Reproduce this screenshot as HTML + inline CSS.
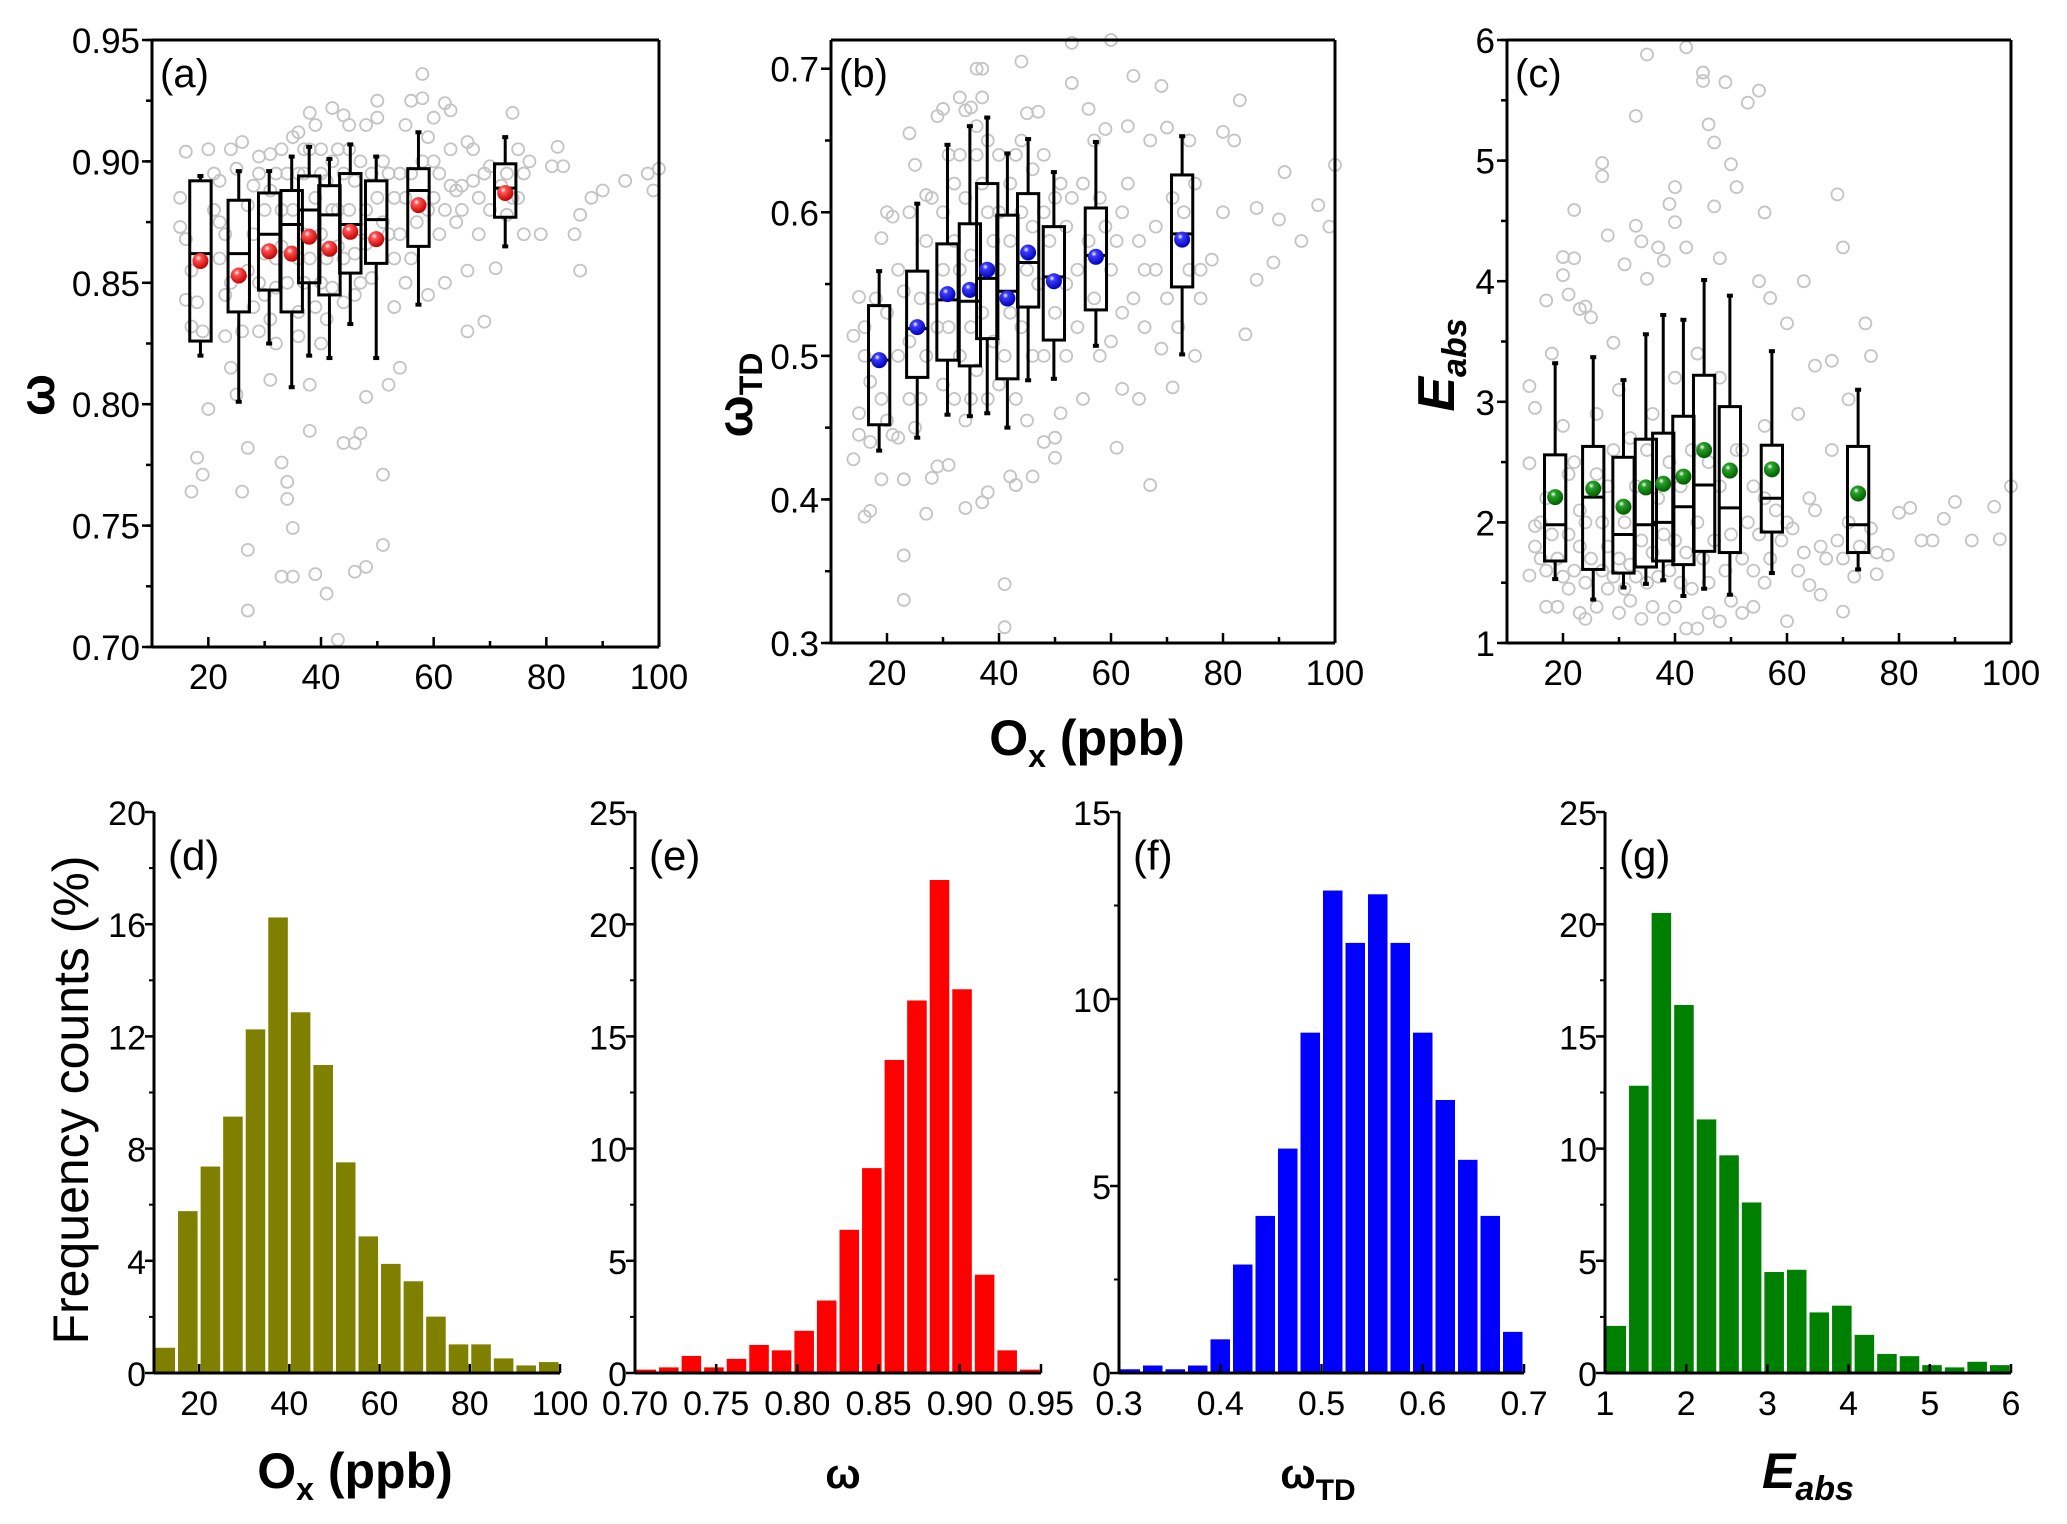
<!DOCTYPE html>
<html><head><meta charset="utf-8"><title>Box plots and histograms vs Ox</title>
<style>
html,body{margin:0;padding:0;background:#fff;}
svg{display:block;font-family:"Liberation Sans",sans-serif;}
.tick{font-size:35px;fill:#000;}
.tickn{font-size:34px;fill:#000;font-family:"Liberation Sans Narrow","Liberation Sans",sans-serif;}
</style></head>
<body>
<svg id="fig" width="2067" height="1524" viewBox="0 0 2067 1524" xmlns="http://www.w3.org/2000/svg">
<defs>
<radialGradient id="gr" cx="0.38" cy="0.32" r="0.7"><stop offset="0" stop-color="#fff"/><stop offset="0.25" stop-color="#ff5050"/><stop offset="1" stop-color="#c00000"/></radialGradient>
<radialGradient id="gb" cx="0.38" cy="0.32" r="0.7"><stop offset="0" stop-color="#fff"/><stop offset="0.25" stop-color="#3a3aff"/><stop offset="1" stop-color="#0000b0"/></radialGradient>
<radialGradient id="gg" cx="0.38" cy="0.32" r="0.7"><stop offset="0" stop-color="#fff"/><stop offset="0.25" stop-color="#2aa02a"/><stop offset="1" stop-color="#005c00"/></radialGradient>
</defs>
</svg>
<script>
// ---- box-plot data (shared x positions, Ox ppb) ----
const boxX = [18.6,25.4,30.8,34.8,37.9,41.5,45.2,49.8,57.3,72.7];
// panel (a) omega
const aWLo=[0.820,0.801,0.825,0.807,0.820,0.819,0.833,0.819,0.841,0.865];
const aQ1 =[0.826,0.838,0.847,0.838,0.850,0.845,0.854,0.858,0.865,0.877];
const aMed=[0.862,0.862,0.870,0.874,0.880,0.878,0.874,0.876,0.888,0.889];
const aQ3 =[0.892,0.884,0.887,0.888,0.894,0.890,0.895,0.892,0.897,0.899];
const aWHi=[0.894,0.896,0.896,0.902,0.906,0.901,0.907,0.902,0.912,0.910];
const aMean=[0.859,0.853,0.863,0.862,0.869,0.864,0.871,0.868,0.882,0.887];
// panel (b) omega_TD
const bWLo=[0.434,0.443,0.459,0.458,0.460,0.450,0.483,0.484,0.507,0.501];
const bQ1 =[0.452,0.485,0.497,0.493,0.512,0.484,0.534,0.511,0.532,0.548];
const bMed=[0.497,0.519,0.539,0.538,0.554,0.545,0.565,0.555,0.570,0.585];
const bQ3 =[0.535,0.559,0.578,0.592,0.620,0.598,0.613,0.590,0.603,0.626];
const bWHi=[0.559,0.606,0.647,0.660,0.666,0.641,0.651,0.628,0.649,0.653];
const bMean=[0.497,0.520,0.543,0.546,0.560,0.540,0.572,0.552,0.569,0.581];
// panel (c) E_abs
const cWLo=[1.53,1.36,1.46,1.49,1.52,1.39,1.45,1.40,1.58,1.61];
const cQ1 =[1.68,1.61,1.58,1.63,1.68,1.65,1.76,1.75,1.92,1.75];
const cMed=[1.98,2.21,1.90,1.98,2.00,2.13,2.31,2.12,2.20,1.98];
const cQ3 =[2.56,2.63,2.54,2.69,2.74,2.88,3.22,2.96,2.64,2.63];
const cWHi=[3.32,3.37,3.18,3.56,3.72,3.68,4.01,3.88,3.42,3.10];
const cMean=[2.21,2.28,2.13,2.29,2.32,2.38,2.60,2.43,2.44,2.24];
// scatter clouds (Ox, value)
const aPts=[[15,0.885],[16,0.904],[15,0.873],[16,0.843],[17,0.832],[18,0.778],[17,0.764],[19,0.771],[20,0.798],[20,0.905],[22,0.892],[24,0.905],[26,0.908],[23,0.870],[24,0.850],[26,0.830],[25,0.804],[27,0.782],[26,0.764],[27,0.740],[27,0.715],[29,0.902],[31,0.903],[30,0.880],[32,0.860],[29,0.830],[31,0.810],[33,0.776],[34,0.768],[34,0.761],[35,0.749],[33,0.729],[35,0.729],[37,0.905],[38,0.920],[36,0.912],[40,0.895],[39,0.840],[38,0.808],[38,0.789],[39,0.730],[41,0.722],[43,0.703],[42,0.922],[44,0.919],[45,0.915],[44,0.784],[46,0.784],[46,0.731],[48,0.733],[47,0.788],[48,0.803],[50,0.925],[50,0.918],[51,0.742],[51,0.771],[52,0.808],[54,0.815],[55,0.915],[56,0.925],[58,0.936],[58,0.926],[60,0.918],[62,0.924],[63,0.921],[60,0.900],[62,0.880],[65,0.890],[66,0.908],[67,0.905],[69,0.895],[66,0.855],[66,0.830],[69,0.834],[71,0.856],[74,0.920],[75,0.905],[77,0.900],[79,0.870],[81,0.898],[82,0.906],[83,0.898],[85,0.870],[86,0.878],[86,0.855],[88,0.885],[90,0.888],[94,0.892],[98,0.895],[99,0.888],[100,0.897],
[21,0.880],[22,0.860],[23,0.845],[28,0.890],[28,0.870],[29,0.850],[32,0.895],[33,0.880],[36,0.895],[36,0.860],[37,0.850],[40,0.870],[40,0.850],[42,0.900],[43,0.880],[44,0.860],[47,0.900],[48,0.880],[52,0.895],[52,0.870],[53,0.860],[55,0.885],[56,0.860],[59,0.880],[61,0.870],[63,0.890],[64,0.875],[68,0.885],[70,0.880],[73,0.895],[75,0.885],[76,0.870],[31,0.835],[41,0.835],[46,0.845],[53,0.840],[59,0.845],[62,0.850],
[16,0.868],[17,0.855],[18,0.842],[19,0.830],[21,0.895],[22,0.875],[23,0.828],[24,0.815],[25,0.897],[27,0.855],[27,0.882],[28,0.840],[29,0.895],[30,0.862],[30,0.845],[31,0.888],[32,0.848],[32,0.825],[33,0.905],[33,0.865],[34,0.895],[34,0.850],[35,0.910],[35,0.880],[36,0.838],[36,0.828],[37,0.895],[37,0.870],[38,0.905],[38,0.860],[39,0.915],[39,0.885],[40,0.905],[40,0.825],[41,0.892],[41,0.860],[42,0.880],[42,0.848],[43,0.905],[43,0.865],[44,0.895],[44,0.842],[45,0.905],[45,0.880],[46,0.892],[46,0.862],[47,0.872],[47,0.850],[48,0.915],[48,0.866],[49,0.895],[49,0.852],[50,0.885],[51,0.900],[51,0.875],[53,0.885],[54,0.895],[54,0.870],[55,0.850],[56,0.895],[57,0.875],[58,0.900],[59,0.910],[60,0.885],[61,0.895],[63,0.905],[64,0.888],[65,0.880],[67,0.892],[68,0.870],[70,0.898],[72,0.890],[73,0.878],[74,0.885],[76,0.895]];
const bPts=[[14,0.428],[15,0.445],[14,0.514],[15,0.541],[16,0.500],[17,0.482],[16,0.388],[17,0.392],[19,0.414],[20,0.600],[21,0.597],[19,0.582],[22,0.443],[23,0.414],[24,0.655],[24,0.600],[25,0.633],[23,0.361],[23,0.330],[27,0.612],[27,0.390],[28,0.415],[29,0.667],[30,0.672],[29,0.423],[31,0.424],[33,0.680],[34,0.671],[35,0.673],[36,0.700],[37,0.700],[37,0.680],[34,0.394],[37,0.398],[38,0.405],[41,0.341],[41,0.311],[42,0.416],[43,0.410],[44,0.705],[45,0.669],[45,0.455],[46,0.416],[47,0.670],[48,0.440],[50,0.443],[50,0.429],[51,0.460],[53,0.690],[53,0.718],[56,0.672],[57,0.650],[59,0.658],[60,0.720],[61,0.436],[62,0.477],[63,0.660],[64,0.695],[65,0.470],[67,0.410],[67,0.650],[69,0.688],[70,0.659],[69,0.505],[71,0.478],[74,0.650],[75,0.500],[76,0.560],[78,0.567],[80,0.600],[80,0.656],[82,0.650],[83,0.678],[84,0.515],[86,0.603],[86,0.553],[89,0.565],[90,0.595],[91,0.628],[94,0.580],[97,0.605],[99,0.590],[100,0.633],
[20,0.530],[22,0.560],[24,0.510],[27,0.580],[28,0.540],[30,0.600],[32,0.620],[33,0.560],[36,0.640],[38,0.600],[40,0.640],[42,0.620],[44,0.650],[46,0.590],[48,0.640],[50,0.610],[52,0.590],[54,0.560],[55,0.620],[58,0.610],[60,0.560],[62,0.600],[64,0.540],[66,0.560],[68,0.590],[71,0.610],[74,0.560],[52,0.500],[55,0.470],[60,0.510],[35,0.470],[40,0.480],[30,0.480],[26,0.470],
[15,0.460],[16,0.520],[17,0.440],[18,0.540],[19,0.470],[20,0.455],[21,0.445],[22,0.500],[23,0.545],[24,0.470],[25,0.450],[26,0.540],[27,0.500],[28,0.610],[29,0.520],[30,0.560],[31,0.640],[31,0.520],[32,0.580],[32,0.470],[33,0.640],[33,0.500],[34,0.610],[34,0.455],[35,0.570],[35,0.520],[36,0.660],[36,0.490],[37,0.620],[37,0.530],[38,0.650],[38,0.470],[39,0.580],[39,0.510],[40,0.560],[40,0.600],[41,0.500],[42,0.580],[42,0.530],[43,0.640],[43,0.470],[44,0.600],[44,0.520],[45,0.560],[46,0.630],[46,0.500],[47,0.550],[48,0.600],[48,0.500],[49,0.580],[50,0.530],[51,0.620],[52,0.550],[53,0.610],[54,0.520],[56,0.580],[57,0.540],[58,0.500],[59,0.590],[61,0.580],[62,0.530],[63,0.620],[65,0.580],[66,0.520],[68,0.560],[70,0.540],[72,0.520],[73,0.600],[75,0.620],[76,0.540]];
const cPts=[[14,3.13],[15,2.95],[14,2.49],[15,1.97],[14,1.56],[17,3.84],[18,3.40],[20,4.20],[20,4.05],[21,3.89],[22,4.19],[22,4.59],[23,3.77],[24,3.79],[25,3.70],[28,4.38],[27,4.98],[27,4.87],[29,3.49],[31,4.14],[33,5.37],[33,4.46],[34,4.33],[35,5.88],[35,4.02],[37,4.28],[38,4.17],[39,4.64],[40,4.78],[40,4.49],[42,5.94],[42,4.28],[45,5.73],[45,5.66],[46,5.30],[47,5.15],[47,4.62],[48,4.19],[49,5.65],[50,4.97],[51,4.78],[53,5.48],[55,5.58],[56,4.57],[55,4.00],[57,3.86],[60,3.65],[63,4.00],[65,3.30],[68,3.34],[69,4.72],[70,4.28],[71,3.02],[74,3.65],[75,3.38],[78,1.73],[80,2.08],[82,2.12],[84,1.85],[86,1.85],[88,2.03],[90,2.17],[93,1.85],[97,2.13],[98,1.86],[100,2.30],
[16,1.70],[17,1.30],[19,1.30],[21,1.45],[23,1.25],[24,1.20],[26,1.30],[28,1.45],[30,1.25],[32,1.35],[34,1.20],[36,1.30],[38,1.20],[40,1.30],[42,1.12],[44,1.12],[46,1.25],[48,1.18],[50,1.35],[52,1.25],[54,1.30],[56,1.50],[60,1.18],[62,1.60],[64,1.48],[66,1.40],[70,1.26],[72,1.55],[76,1.57],[17,2.20],[20,2.80],[22,2.50],[24,2.00],[26,2.90],[28,2.30],[30,3.10],[32,2.70],[36,2.90],[40,3.20],[44,3.40],[48,3.20],[52,2.60],[54,2.30],[56,2.80],[58,2.10],[60,2.00],[62,2.90],[64,2.20],[66,1.80],[68,2.60],[70,1.70],
[15,1.80],[16,2.00],[17,1.60],[18,1.90],[19,1.70],[20,1.55],[21,1.90],[21,2.40],[22,1.60],[23,1.80],[23,2.10],[24,1.50],[25,1.70],[26,2.40],[27,1.60],[27,2.00],[28,1.80],[29,1.55],[29,2.60],[30,1.70],[31,2.00],[31,1.45],[32,1.65],[33,2.30],[33,1.55],[34,1.85],[35,2.60],[35,1.50],[36,1.75],[37,2.20],[37,1.55],[38,1.90],[39,2.50],[39,1.60],[40,1.85],[41,2.30],[41,1.50],[42,1.75],[43,2.60],[43,1.45],[44,2.00],[45,1.70],[46,2.50],[46,1.50],[47,1.85],[48,2.30],[49,1.60],[50,1.90],[51,2.60],[52,1.70],[53,2.00],[54,1.60],[55,1.90],[56,2.20],[57,1.70],[59,1.85],[61,1.95],[63,1.75],[65,2.10],[67,1.70],[69,1.85],[71,2.00],[73,1.80],[75,1.95],[76,1.75]];
// ---- histogram data ----
const dVals=[0.9,5.77,7.36,9.14,12.25,16.24,12.86,10.98,7.51,4.87,3.89,3.27,2.01,1.02,1.02,0.52,0.27,0.39];
const eVals=[0.15,0.25,0.76,0.25,0.63,1.25,1.01,1.88,3.23,6.38,9.13,13.95,16.6,21.97,17.1,4.38,1.01,0.15];
const fVals=[0.1,0.2,0.1,0.2,0.9,2.9,4.2,6.0,9.1,12.9,11.5,12.8,11.5,9.1,7.3,5.7,4.2,1.1];
const gVals=[2.1,12.8,20.5,16.4,11.3,9.7,7.6,4.5,4.6,2.7,3.0,1.7,0.85,0.75,0.35,0.25,0.5,0.35];
const abcXTicks=[20,40,60,80,100];
const aYTicks=["0.70","0.75","0.80","0.85","0.90","0.95"];
const bYTicks=["0.3","0.4","0.5","0.6","0.7"];
const cYTicks=["1","2","3","4","5","6"];
const dXTicks=["20","40","60","80","100"];
const dYTicks=["0","4","8","12","16","20"];
const eXTicks=["0.70","0.75","0.80","0.85","0.90","0.95"];
const eYTicks=["0","5","10","15","20","25"];
const fXTicks=["0.3","0.4","0.5","0.6","0.7"];
const fYTicks=["0","5","10","15"];
const gXTicks=["1","2","3","4","5","6"];
const gYTicks=["0","5","10","15","20","25"];

const svg=document.getElementById('fig');
const NS='http://www.w3.org/2000/svg';
function mk(tag,attrs,parent){const e=document.createElementNS(NS,tag);for(const k in attrs)e.setAttribute(k,attrs[k]);(parent||svg).appendChild(e);return e;}
function txt(s,attrs,parent){const e=mk('text',attrs,parent);e.textContent=s;return e;}
function scale(d0,d1,p0,p1){return v=>p0+(v-d0)/(d1-d0)*(p1-p0);}

function frame(g,L,R,T,B,full){
  mk('line',{x1:L,y1:T,x2:L,y2:B,stroke:'#000','stroke-width':3},g);
  mk('line',{x1:L,y1:B,x2:R,y2:B,stroke:'#000','stroke-width':3},g);
  if(full){mk('line',{x1:L,y1:T,x2:R,y2:T,stroke:'#000','stroke-width':3},g);
  mk('line',{x1:R,y1:T,x2:R,y2:B,stroke:'#000','stroke-width':3},g);}
}

function boxPanel(name,L,R,T,B,ymin,ymax,yTicks,yMinorStep,wlo,q1,med,q3,whi,mean,pts,grad,label){
  const g=mk('g',{});
  
  
  const X=scale(10,100,L,R), Y=scale(ymin,ymax,B,T);
  const sg=mk('g',{},g);
  
  
  pts.forEach(p=>{const c=mk('circle',{cx:X(p[0]),cy:Y(p[1]),r:6,fill:'none',stroke:'#c4c4c4','stroke-width':1.8},sg);
    
    });
  frame(g,L,R,T,B,true);
  for(let v=10;v<=100;v+=10){const x=X(v);mk('line',{x1:x,y1:B,x2:x,y2:B-(v%20===0?10:6),stroke:'#000','stroke-width':2.5},g);}
  abcXTicks.forEach(v=>{const t=txt(String(v),{x:X(v),y:B+42,'text-anchor':'middle',class:'tick'},g);
    
    });
  for(let v=ymin;v<=ymax+1e-9;v+=yMinorStep){const y=Y(v);mk('line',{x1:L,y1:y,x2:L-6,y2:y,stroke:'#000','stroke-width':2.5},g);}
  yTicks.forEach(s=>{const y=Y(parseFloat(s));mk('line',{x1:L,y1:y,x2:L-10,y2:y,stroke:'#000','stroke-width':2.5},g);
    const t=txt(s,{x:L-12,y:y+13,'text-anchor':'end',class:'tick'},g);
    
    });
  const hw=(X(11.9)-X(10));
  boxX.forEach((bx,i)=>{
    const bg=mk('g',{},g);
    
    
    const x=X(bx);
    mk('line',{x1:x,y1:Y(whi[i]),x2:x,y2:Y(q3[i]),stroke:'#000','stroke-width':3},bg);
    mk('line',{x1:x,y1:Y(q1[i]),x2:x,y2:Y(wlo[i]),stroke:'#000','stroke-width':3},bg);
    mk('line',{x1:x-3,y1:Y(whi[i]),x2:x+3,y2:Y(whi[i]),stroke:'#000','stroke-width':4},bg);
    mk('line',{x1:x-3,y1:Y(wlo[i]),x2:x+3,y2:Y(wlo[i]),stroke:'#000','stroke-width':4},bg);
    mk('rect',{x:x-hw,y:Y(q3[i]),width:2*hw,height:Y(q1[i])-Y(q3[i]),fill:'none',stroke:'#000','stroke-width':3},bg);
    mk('line',{x1:x-hw,y1:Y(med[i]),x2:x+hw,y2:Y(med[i]),stroke:'#000','stroke-width':3},bg);
    const m=mk('circle',{cx:x,cy:Y(mean[i]),r:8,fill:'url(#'+grad+')'},bg);
    
    
  });
  const pl=txt(label,{x:L+8,y:T+47,'font-size':40},g);
  
  
}

function histPanel(name,L,R,T,B,xmin,xmax,ymax,xTicks,yTicks,yMinor,vals,color,label){
  const g=mk('g',{});
  
  
  const X=scale(xmin,xmax,L,R), Y=scale(0,ymax,B,T);
  const n=vals.length, w=(xmax-xmin)/n;
  const bg=mk('g',{},g);
  
  
  vals.forEach((v,i)=>{const x0=X(xmin+i*w), x1=X(xmin+(i+1)*w);
    const r=mk('rect',{x:x0+1.5,y:Y(v),width:x1-x0-3,height:B-Y(v),fill:color},bg);
    
    });
  frame(g,L,R,T,B,false);
  xTicks.forEach(s=>{const x=X(parseFloat(s));mk('line',{x1:x,y1:B,x2:x,y2:B-9,stroke:'#000','stroke-width':2.5},g);
    const t=txt(s,{x:x,y:B+42,'text-anchor':'middle',class:'tickn'},g);
    
    });
  for(let v=0;v<=ymax+1e-9;v+=yMinor){const y=Y(v);mk('line',{x1:L,y1:y,x2:L-5,y2:y,stroke:'#000','stroke-width':2},g);}
  yTicks.forEach(s=>{const y=Y(parseFloat(s));mk('line',{x1:L,y1:y,x2:L-9,y2:y,stroke:'#000','stroke-width':2.5},g);
    const t=txt(s,{x:L-8,y:y+13,'text-anchor':'end',class:'tickn'},g);
    
    });
  const pl=txt(label,{x:L+14,y:T+58,'font-size':42,'font-family':'"Liberation Sans Narrow","Liberation Sans",sans-serif'},g);
  
  
}

boxPanel('panel-a-omega',152,659,40,647,0.70,0.95,aYTicks,0.025,aWLo,aQ1,aMed,aQ3,aWHi,aMean,aPts,'gr','(a)');
boxPanel('panel-b-omega-td',831,1335,40,643,0.3,0.72,bYTicks,0.05,bWLo,bQ1,bMed,bQ3,bWHi,bMean,bPts,'gb','(b)');
boxPanel('panel-c-eabs',1507,2011,40,643,1,6,cYTicks,0.5,cWLo,cQ1,cMed,cQ3,cWHi,cMean,cPts,'gg','(c)');
histPanel('panel-d-ox-hist',154,560,812,1373,10,100,20,dXTicks,dYTicks,2,dVals,'#808000','(d)');
histPanel('panel-e-omega-hist',635,1041,812,1373,0.70,0.95,25,eXTicks,eYTicks,2.5,eVals,'#ff0000','(e)');
histPanel('panel-f-omegatd-hist',1119,1524,812,1373,0.3,0.7,15,fXTicks,fYTicks,2.5,fVals,'#0000ff','(f)');
histPanel('panel-g-eabs-hist',1605,2011,812,1373,1,6,25,gXTicks,gYTicks,2.5,gVals,'#008000','(g)');
</script>
<svg style="position:absolute;left:0;top:0" width="2067" height="1524" xmlns="http://www.w3.org/2000/svg" font-family="Liberation Sans, sans-serif">
<text transform="translate(54,395) rotate(-90)" text-anchor="middle" font-size="50" font-weight="bold">ω</text>
<text transform="translate(752,395) rotate(-90)" text-anchor="middle" font-size="50" font-weight="bold">ω<tspan font-size="32" dy="10">TD</tspan></text>
<text transform="translate(1454,365) rotate(-90)" text-anchor="middle" font-size="52" font-weight="bold" font-style="italic">E<tspan font-size="34" dy="12">abs</tspan></text>
<text x="1087" y="755" text-anchor="middle" font-size="50" font-weight="bold">O<tspan font-size="32" dy="12">x</tspan><tspan dy="-12"> (ppb)</tspan></text>
<text transform="translate(88,1100) rotate(-90)" text-anchor="middle" font-size="50">Frequency counts  (%)</text>
<text x="355" y="1488" text-anchor="middle" font-size="50" font-weight="bold">O<tspan font-size="32" dy="12">x</tspan><tspan dy="-12"> (ppb)</tspan></text>
<text x="843" y="1488" text-anchor="middle" font-size="42" font-weight="bold">ω</text>
<text x="1318" y="1488" text-anchor="middle" font-size="42" font-weight="bold">ω<tspan font-size="30" dy="12">TD</tspan></text>
<text x="1808" y="1488" text-anchor="middle" font-size="50" font-weight="bold" font-style="italic">E<tspan font-size="34" dy="12">abs</tspan></text>
</svg>
</body></html>
